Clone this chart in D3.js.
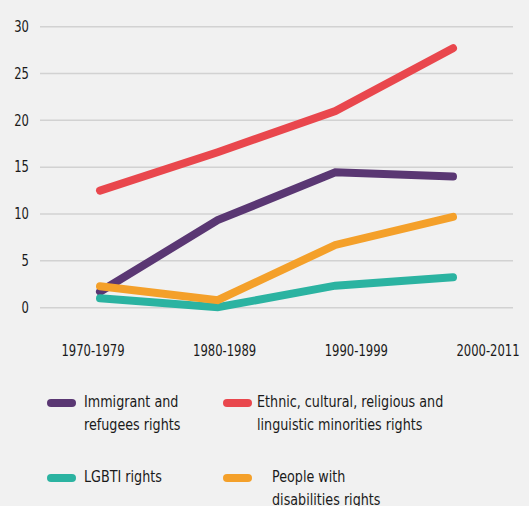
<!doctype html>
<html lang="en">
<head>
<meta charset="utf-8">
<script src="https://d3js.org/d3.v7.min.js"></script>
<style>
  body { margin: 0; background: #f1f1f1; }
  svg { display: block; }
  text { font-family: "DejaVu Sans Condensed", sans-serif; fill: #1a1a1a; }
</style>
</head>
<body>
<div id="chart"></div>
<script>
// data
const periods = ["1970-1979", "1980-1989", "1990-1999", "2000-2011"];
const immigrant = [1.7, 9.35, 14.45, 14.0];
const ethnic = [12.5, 16.6, 21.0, 27.7];
const lgbti = [1.0, 0.05, 2.35, 3.25];
const disability = [2.3, 0.8, 6.7, 9.7];
const yTicks = [0, 5, 10, 15, 20, 25, 30];

const series = [
  { name: ["Immigrant and", "refugees rights"], values: immigrant, color: "#5a3773" },
  { name: ["Ethnic, cultural, religious and", "linguistic minorities rights"], values: ethnic, color: "#e9474d" },
  { name: ["LGBTI rights"], values: lgbti, color: "#2bb3a1" },
  { name: ["People with", "disabilities rights"], values: disability, color: "#f4a02a" }
];

const W = 529, H = 506;
const SX = 0.86; // squeeze text horizontally, the original font is a condensed one
const svg = d3.select("#chart").append("svg").attr("width", W).attr("height", H);

const y = d3.scaleLinear().domain([0, 30]).range([307.7, 26.7]);
// line points and category labels sit on slightly different spacing
const x = d3.scalePoint().domain(periods).range([100, 453]);
const xLab = d3.scalePoint().domain(periods).range([93, 488]);

// gridlines + y labels
const yAxis = svg.append("g");
yAxis.selectAll("line").data(yTicks).enter().append("line")
  .attr("x1", 40).attr("x2", 513)
  .attr("y1", d => y(d)).attr("y2", d => y(d))
  .attr("stroke", "#d2d2d2").attr("stroke-width", 1.5);
yAxis.selectAll("text").data(yTicks).enter().append("text")
  .attr("transform", d => `translate(29,${y(d)}) scale(${SX},1)`)
  .attr("dy", "0.35em")
  .attr("text-anchor", "end").style("font-size", "15px")
  .text(d => d);

// x labels
svg.append("g").selectAll("text").data(periods).enter().append("text")
  .attr("transform", d => `translate(${xLab(d)},356) scale(${SX},1)`)
  .attr("text-anchor", "middle").style("font-size", "15px")
  .text(d => d);

// lines
const line = d3.line().x((d, i) => x(periods[i])).y(d => y(d));
svg.append("g").selectAll("path").data(series).enter().append("path")
  .attr("d", d => line(d.values))
  .attr("fill", "none")
  .attr("stroke", d => d.color)
  .attr("stroke-width", 8)
  .attr("stroke-linecap", "round")
  .attr("stroke-linejoin", "miter");

// legend
const legendPos = [
  { sx: 47, sy: 403, tx: 84 },
  { sx: 223, sy: 403, tx: 257 },
  { sx: 47, sy: 478, tx: 84 },
  { sx: 223, sy: 478, tx: 272 }
];
const lg = svg.append("g").selectAll("g").data(series).enter().append("g");
lg.append("line")
  .attr("x1", (d, i) => legendPos[i].sx + 4).attr("x2", (d, i) => legendPos[i].sx + 25)
  .attr("y1", (d, i) => legendPos[i].sy).attr("y2", (d, i) => legendPos[i].sy)
  .attr("stroke", d => d.color).attr("stroke-width", 8).attr("stroke-linecap", "round");
lg.each(function (d, i) {
  const t = d3.select(this).append("text")
    .attr("transform", `translate(${legendPos[i].tx},${legendPos[i].sy + 4}) scale(${SX * 1.03},1)`)
    .style("font-size", "16px");
  d.name.forEach((s, k) => {
    t.append("tspan").attr("x", 0).attr("dy", k ? 23 : 0).text(s);
  });
});
</script>
</body>
</html>
